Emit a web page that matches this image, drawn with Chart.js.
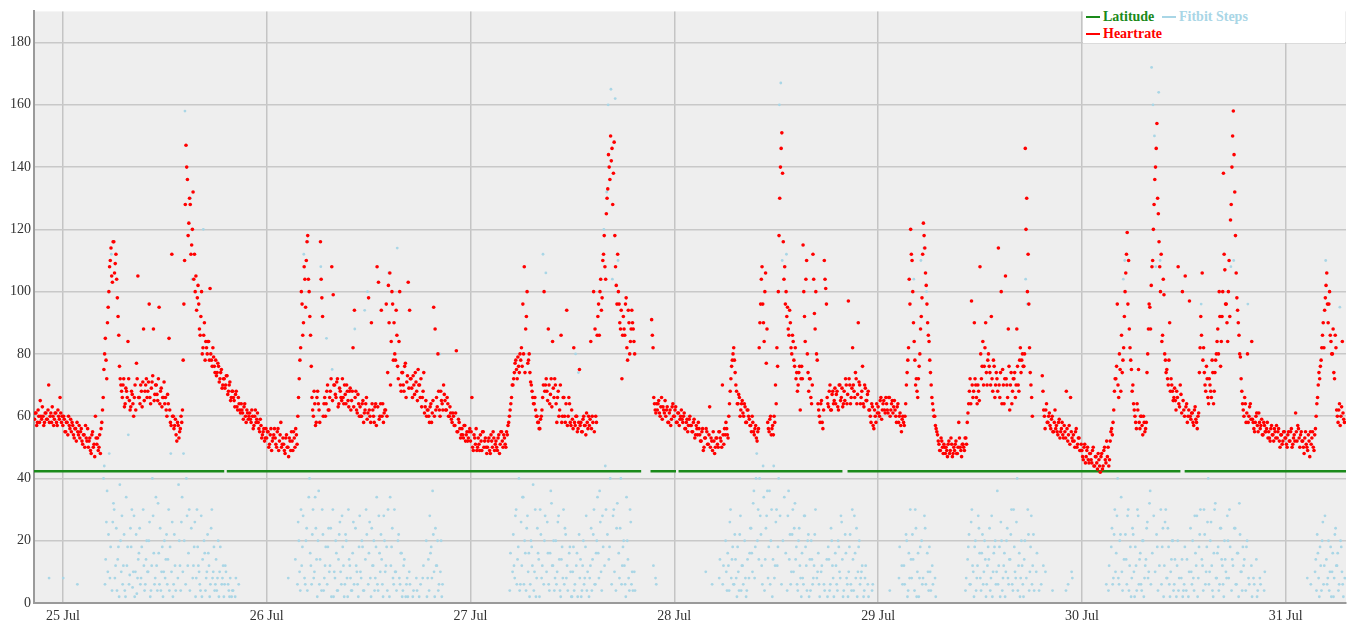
<!DOCTYPE html>
<html><head><meta charset="utf-8">
<script src="https://cdn.jsdelivr.net/npm/chart.js@4.4.1/dist/chart.umd.min.js"></script>
<style>
html,body{margin:0;padding:0;background:#fff;}
#wrap{position:relative;width:1354px;height:631px;}
#legend{position:absolute;left:1083px;top:9px;width:262px;height:34px;background:#fff;font-family:'Liberation Serif','Times New Roman',serif;font-weight:bold;font-size:14px;}
.item{position:absolute;white-space:nowrap;line-height:16px;height:16px;}
.item i{display:inline-block;width:14px;height:2.5px;vertical-align:middle;margin-right:3px;position:relative;top:-1px;}
</style></head>
<body><div id="wrap"><canvas id="c" width="1354" height="631"></canvas><div id="legend"></div></div>
<script>
// ---- tick labels ----
const dayLabels = ['25 Jul','26 Jul','27 Jul','28 Jul','29 Jul','30 Jul','31 Jul'];
const dayTickHours = [0,24,48,72,96,120,144];
const yTickValues = [0,20,40,60,80,100,120,140,160,180];
const seriesNames = ['Latitude','Fitbit Steps','Heartrate'];

// ---- Heartrate, reading A every 10 minutes (hours since 25 Jul 00:00) ----
const hrPreStart = -200/60;
const hrPre = [59,61,58,60,65,59,60,58,61,59,70,60,58,60,59,61,57,60,66,58];
const hr25 = [
57,59,55,58,60,56, 55,57,53,56,58,54, 53,56,51,54,57,52, 50,53,48,55,51,60,
51,49,54,56,62,75, 85,72,95,108,114,103, 116,109,104,92,76,70, 66,72,64,68,84,65,
63,67,60,70,77,105, 66,70,63,88,68,72, 68,96,64,71,88,67, 70,65,95,68,63,66,
64,62,67,85,58,112, 60,57,54,58,53,56, 58,78,110,147,136,122, 128,115,132,112,105,98,
96,86,100,82,90,84, 80,84,101,78,82,76, 78,74,76,72,75,70, 72,70,73,68,71,66,
68,65,67,63,66,62, 64,61,63,60,62,59, 61,58,60,57,62,59, 58,55,57,54,56,53];
const hr26 = [
53,55,51,56,52,54, 53,50,56,52,58,51, 51,48,54,50,53,49, 52,55,50,54,60,72,
82,96,90,104,110,118, 100,86,66,60,64,58, 68,62,116,98,60,66, 64,70,62,68,108,99,
70,66,72,64,68,65, 66,70,64,68,63,69, 65,82,94,68,61,64, 63,60,65,61,64,59,
98,60,90,62,58,64, 108,103,60,94,64,61, 62,60,102,106,84,96, 90,78,86,72,100,68,
74,68,77,71,103,94, 72,66,70,74,68,75, 70,72,66,74,63,60, 62,58,64,61,95,88,
66,80,62,68,64,70, 65,62,64,60,61,58, 60,57,81,55,58,53, 56,53,57,54,52,55];
const hr27 = [
52,66,49,53,56,50, 51,54,49,55,52,50, 50,53,48,52,55,49, 52,49,54,51,55,50,
53,50,54,58,62,66, 70,74,78,72,76,80, 82,96,108,88,100,78, 74,70,66,64,62,60,
58,56,60,66,100,70, 68,88,64,72,84,66, 70,58,68,62,86,60, 66,58,94,60,64,57,
59,82,57,60,56,75, 58,55,60,57,61,56, 57,84,60,100,88,58, 92,86,104,98,112,108,
125,133,140,150,146,138, 118,102,112,96,88,72, 92,86,98,78,90,84, 94,88,80,null,null,null,
null,null,null,null,null,null, null,null,91,82,64,61, 62,65,60,66,63,61, 60,63,58,62,59,64];
const hr28 = [
60,63,58,61,59,62, 58,61,56,59,57,60, 57,55,59,54,56,58, 54,52,56,50,53,55,
51,63,53,49,52,50, 53,50,55,52,70,51, 54,56,53,64,72,78, 82,74,68,64,66,62,
65,60,63,58,62,59, 57,60,55,56,53,55, 82,96,108,90,100,77, 58,55,60,56,54,58,
64,76,118,140,151,116, 108,100,95,86,90,80, 84,76,72,68,74,62, 76,115,92,104,80,68,
72,64,112,93,100,78, 62,58,65,56,110,101, 66,63,70,62,68,65, 64,68,62,70,66,63,
68,72,64,97,70,66, 82,68,74,64,90,70, 66,76,63,69,65,68, 62,58,63,56,60,64];
const hr29 = [
63,60,66,62,65,61, 64,61,66,62,65,63, 62,58,64,60,57,59, 58,60,70,78,104,120,
110,90,78,72,66,76, 88,98,122,114,102,90, 84,74,66,62,60,56, 54,51,49,52,48,50,
50,47,52,49,51,48, 49,52,48,58,50,47, 51,49,53,58,64,72, 97,66,90,70,64,68,
108,72,84,76,90,70, 80,74,92,68,76,70, 72,114,66,100,75,64, 105,70,88,62,74,68,
72,66,88,70,78,74, 80,76,146,130,112,82, 70,60,null,null,null,null, null,null,73,62,56,64,
58,61,56,60,55,62, 57,54,59,55,58,53, 55,68,52,57,66,53, 54,50,56,51,53,49];
const hr30 = [
49,46,51,47,50,45, 48,45,50,44,47,43, 46,42,48,44,50,45, 47,44,52,56,58,68,
72,96,66,75,86,78, 92,106,119,110,82,75, 70,62,58,64,75,56, 60,54,58,56,74,88,
95,102,110,128,140,154, 125,108,112,86,99,78, 75,70,90,72,68,66, 65,68,108,63,67,100,
62,105,64,60,97,59, 61,57,63,58,60,74, 92,106,82,70,76,66, 72,68,78,64,74,80,
88,100,76,92,138,107, 96,84,110,123,140,158, 132,106,94,86,79,68, 62,66,58,80,60,64,
84,58,55,60,57,61, 56,59,54,57,55,58, 55,52,57,54,56,53, 53,56,50,54,52,55];
const hr31 = [
53,50,55,52,56,51, 54,61,52,56,50,55, 52,48,55,50,54,47, 51,55,49,56,64,70,
72,78,86,82,98,106, 90,100,84,80,74,86, 62,58,64,60,84,59];

// ---- Heartrate, reading B, 5 minutes after each reading A ----
const hrPreB = [61,57,62,58,60,63,57,61,59,62,58,61,63,57,61,58,62,59,61,60];
const hr25B = [
60,55,58,54,57,59, 58,54,56,52,55,57, 55,52,54,50,53,56, 52,49,54,50,47,53,
53,50,48,58,66,80, 78,90,100,110,105,116, 106,112,98,86,72,68, 70,63,69,66,72,62,
68,64,66,62,72,66, 64,68,71,65,70,66, 71,66,69,73,65,70, 67,72,64,69,66,71,
66,60,64,62,57,60, 56,59,52,57,55,60, 62,96,128,140,118,130, 112,120,104,100,94,102,
88,92,80,86,78,82, 84,78,80,76,79,74, 73,77,71,74,69,72, 69,73,67,70,65,68,
66,63,68,62,64,61, 62,59,64,58,61,60, 59,62,56,60,58,61, 56,59,53,55,52,56];
const hr26B = [
55,50,54,49,53,56, 51,55,49,54,50,53, 49,53,50,47,52,55, 49,53,56,51,66,78,
100,86,108,95,116,104, 92,76,62,68,57,66, 64,58,104,92,64,60, 68,62,66,72,65,70,
67,71,63,69,66,72, 64,67,70,65,68,62, 68,63,66,62,67,60, 60,64,58,62,66,61,
62,58,64,60,63,57, 63,59,64,60,58,62, 96,74,90,70,100,78, 80,94,76,84,70,74,
70,76,66,73,69,72, 69,73,67,71,65,70, 66,63,68,61,65,62, 60,63,58,65,60,62,
63,68,60,65,62,67, 62,66,60,63,59,61, 57,61,55,59,56,54, 54,57,52,55,53,56];
const hr27B = [
55,50,54,51,49,53, 49,52,55,50,53,48, 52,49,54,50,53,51, 50,53,48,55,52,54,
51,55,57,60,64,70, 72,77,75,79,74,78, 76,80,74,92,77,80, 71,68,64,66,60,58,
56,59,62,70,68,72, 65,70,67,63,69,72, 64,66,60,70,58,66, 60,64,57,66,58,62,
56,58,60,55,58,57, 55,59,57,54,58,60, 59,56,58,55,60,86, 96,100,94,110,118,104,
130,144,136,142,128,148, 108,96,100,90,94,86, 88,96,82,94,80,88, 90,84,null,null,null,null,
null,null,null,null,null,null, null,null,86,66,62,64, 64,61,63,59,62,65, 62,58,61,57,63,60];
const hr28B = [
62,58,61,57,60,59, 60,56,58,55,59,57, 55,58,53,57,54,56, 52,55,49,53,56,51,
54,50,52,55,48,53, 51,55,53,50,54,56, 58,54,60,68,76,80, 78,70,64,67,60,64,
61,64,58,62,60,57, 55,58,54,57,52,56, 90,104,96,84,106,88, 56,59,54,57,60,70,
82,100,130,146,138,104, 96,92,88,94,82,86, 78,82,74,70,76,72, 72,100,84,110,74,72,
66,70,104,88,80,64, 60,64,58,62,104,96, 64,68,62,67,64,69, 67,63,70,65,69,64,
65,70,67,72,64,69, 70,66,72,67,71,64, 68,64,70,65,67,62, 60,64,57,62,58,61];
const hr29B = [
61,65,59,64,62,66, 62,66,60,64,61,65, 60,63,58,61,55,60, 57,64,74,82,96,112,
100,84,70,68,72,80, 92,112,118,106,96,86, 78,70,64,60,57,55, 52,49,53,50,51,48,
49,51,48,53,47,50, 51,48,50,53,49,51, 50,53,51,61,68,64, 70,68,72,66,70,65,
80,76,70,82,74,78, 76,70,72,78,66,74, 68,70,74,64,70,72, 72,66,76,70,64,72,
74,70,76,68,82,78, 76,80,120,100,96,74, 66,null,null,null,null,null, null,null,68,60,62,58,
60,57,59,55,58,56, 55,58,53,56,54,57, 53,56,54,51,55,52, 52,55,50,53,49,51];
const hr30B = [
47,50,45,49,46,48, 46,49,44,47,45,48, 44,47,43,49,46,52, 50,46,55,54,62,72,
76,70,80,68,74,82, 100,112,96,88,78,68, 64,60,56,62,58,60, 57,60,55,58,80,96,
88,108,120,136,146,130, 116,100,84,104,80,74, 72,78,68,70,65,69, 62,66,64,70,61,65,
60,63,58,62,60,61, 58,62,59,56,61,82, 86,78,74,68,72,64, 70,66,74,68,78,84,
80,92,84,100,112,96, 90,100,92,128,150,144, 118,98,90,80,72,64, 60,64,61,58,63,59,
59,56,58,61,55,58, 57,54,58,55,56,53, 53,56,54,52,55,57, 55,52,54,51,55,53];
const hr31B = [
51,54,52,55,50,53, 52,55,57,53,54,52, 50,53,51,49,52,55, 53,50,54,60,66,74,
76,82,90,94,102,96, 96,86,80,88,72,82, 60,62,57,63,61,58];

// ---- Fitbit steps, reading A every 10 minutes (0 = no steps recorded) ----
const stepsPre = [0,0,0,0,0,0,0,0,0,0,8,0,0,0,0,0,0,0,0,0];
const steps25 = [
8,0,0,0,0,0, 0,0,0,0,6,0, 0,0,0,0,0,0, 0,0,0,0,0,0,
0,0,0,0,0,44, 14,36,22,8,112,26, 30,12,4,18,38,10, 6,22,2,12,54,9,
18,5,28,10,3,14, 24,8,0,12,6,20, 10,26,4,40,16,8, 12,32,6,4,18,10,
8,22,14,4,48,26, 6,12,0,8,20,4, 34,48,158,40,12,30, 130,104,12,26,8,18,
10,4,2,120,16,8, 22,12,6,30,10,4, 14,8,2,18,6,12, 6,10,0,4,8,2,
4,0,8,0,6,0, 0,0,0,0,0,0, 0,0,0,0,0,0, 0,0,0,0,0,0];
const steps26 = [
0,0,0,0,0,0, 0,0,0,0,0,0, 0,0,0,8,0,0, 0,0,14,0,26,10,
30,18,112,6,24,116, 40,12,22,8,34,14, 20,6,108,30,4,12, 85,18,10,24,75,2,
8,16,4,22,10,28, 12,6,20,2,14,8, 4,26,88,12,6,18, 10,20,4,94,30,100,
16,8,24,12,4,18, 6,28,10,14,2,20, 12,4,106,34,18,8, 30,10,114,22,6,16,
4,14,2,8,0,6, 0,2,0,0,4,0, 0,0,8,0,0,2, 14,28,18,36,10,24,
12,4,80,20,6,0, 0,0,0,0,0,0, 0,0,0,0,0,0, 0,0,0,0,0,0];
const steps27 = [
0,0,0,0,0,0, 0,0,0,0,0,0, 0,0,0,0,0,0, 0,0,0,0,0,0,
0,0,0,0,16,0, 22,8,30,14,40,6, 12,34,20,4,28,16, 6,18,38,10,2,24,
14,30,8,112,20,106, 26,6,16,32,12,4, 20,10,28,4,14,8, 6,22,12,0,18,2,
10,4,80,16,74,8, 2,12,6,18,4,0, 8,24,14,30,6,20, 16,36,10,28,120,44,
132,160,18,165,104,30, 162,24,110,8,40,12, 20,6,34,14,4,26, 10,0,4,0,0,0,
0,0,0,0,0,0, 0,0,0,12,0,6, 0,0,0,0,0,0, 0,0,0,0,0,0];
const steps28 = [
0,0,0,0,0,0, 0,0,0,0,0,0, 0,0,0,0,0,0, 0,0,0,0,10,0,
0,0,0,0,0,0, 0,0,14,0,6,0, 20,4,12,26,8,18, 6,14,2,10,22,4,
12,0,8,4,0,16, 24,10,36,18,48,30, 40,22,6,34,14,28, 8,36,20,2,44,12,
30,18,160,167,110,116, 108,112,28,14,6,22, 10,32,18,4,24,8, 16,6,28,12,20,2,
4,14,8,22,0,10, 6,0,12,0,4,0, 2,14,6,20,8,0, 12,4,18,8,26,2,
0,16,6,10,22,4, 14,28,8,2,18,6, 10,0,4,12,0,2, 0,0,6,0,0,0];
const steps29 = [
0,0,0,0,0,0, 0,0,4,0,0,0, 0,0,0,18,0,6, 12,0,20,4,8,14,
22,104,30,2,16,8, 110,6,114,24,100,10, 18,4,12,0,8,0, 0,0,0,0,0,0,
0,0,0,0,0,0, 0,0,0,0,0,0, 0,0,8,14,22,6, 30,10,18,4,12,24,
8,16,6,20,2,12, 14,4,28,10,18,6, 36,12,2,20,8,16, 10,24,6,14,30,4,
18,8,40,12,2,20, 6,14,104,96,22,10, 28,12,4,0,16,0, 0,6,0,0,10,0,
0,0,0,4,0,0, 0,0,0,0,0,0, 0,0,6,0,0,8, 0,0,0,0,0,0];
const steps30 = [
0,0,0,0,0,0, 0,0,0,0,0,0, 0,0,0,0,0,6, 0,12,0,24,8,30,
16,40,6,22,10,104, 110,14,28,4,18,8, 22,2,12,30,6,16, 4,20,8,14,26,10,
36,172,160,150,108,18, 164,110,6,24,12,30, 8,18,2,14,20,6, 0,12,4,0,8,2,
6,0,14,2,0,10, 20,4,16,28,8,22, 96,12,30,6,18,40, 10,26,4,16,32,8,
18,6,24,12,2,14, 8,20,30,108,14,110, 24,6,16,32,10,4, 12,0,18,96,6,0,
2,8,0,14,4,0, 6,0,0,10,0,0, 0,0,0,0,0,0, 0,0,0,0,0,0];
const steps31 = [
0,0,0,0,0,0, 0,0,0,0,0,0, 0,0,0,8,0,0, 0,0,0,14,22,8,
18,4,26,12,110,6, 20,10,2,16,8,24, 12,4,95,18,6,0];

// ---- Fitbit steps, reading B (5 minutes after reading A) ----
const stepsPreB = [0,0,0,0,0,0,0,0,0,0,0,0,0,0,0,0,0,0,0,0];
const steps25B = [
0,0,0,0,0,0, 0,0,0,0,0,0, 0,0,0,0,0,0, 0,0,0,0,0,0,
0,0,0,0,40,6, 26,10,48,18,4,32, 8,24,14,2,20,28, 12,4,34,18,6,24,
30,10,2,22,8,16, 6,18,30,4,14,10, 20,2,12,28,6,34, 4,16,24,10,2,20,
14,6,30,18,10,2, 22,4,0,38,12,26, 10,20,6,28,16,4, 24,8,18,2,30,12,
6,28,14,20,4,10, 16,2,24,8,18,6, 4,20,10,0,8,2, 12,0,6,2,0,4,
0,2,0,0,0,0, 0,0,0,0,0,0, 0,0,0,0,0,0, 0,0,0,0,0,0];
const steps26B = [
0,0,0,0,0,0, 0,0,0,0,0,0, 0,0,0,0,0,0, 0,0,0,6,20,4,
12,28,8,20,4,34, 16,6,30,10,24,2, 36,14,4,22,8,18, 6,24,12,2,30,10,
20,4,14,26,6,18, 2,22,8,30,12,4, 16,6,24,10,2,28, 8,18,4,14,22,6,
26,2,12,20,8,34, 4,16,22,6,28,10, 18,30,2,12,24,6, 10,4,20,8,16,2,
12,0,6,2,10,0, 0,4,0,8,0,2, 6,0,12,0,20,8, 4,16,8,22,2,12,
20,6,10,2,0,0, 0,0,0,0,0,0, 0,0,0,0,0,0, 0,0,0,0,0,0];
const steps27B = [
0,0,0,0,0,0, 0,0,0,0,0,0, 0,0,0,0,0,0, 0,0,0,0,0,0,
0,0,0,4,0,10, 12,28,6,18,4,26, 34,6,16,24,10,2, 20,12,4,30,8,16,
2,22,12,6,28,10, 16,4,36,12,20,8, 6,26,14,2,18,30, 24,8,4,16,10,2,
18,6,12,2,22,14, 4,20,8,28,10,2, 12,4,22,6,16,34, 8,26,4,18,12,30,
22,14,40,6,28,10, 4,32,16,24,6,18, 12,2,20,8,30,6, 4,10,0,0,0,0,
0,0,0,0,0,0, 0,0,0,0,8,0, 0,0,0,0,0,0, 0,0,0,0,0,0];
const steps28B = [
0,0,0,0,0,0, 0,0,0,0,0,0, 0,0,0,0,0,0, 0,0,0,0,0,0,
0,0,6,0,0,0, 0,8,0,0,12,0, 10,16,4,30,14,6, 22,8,18,4,28,12,
6,20,2,14,8,24, 16,32,8,40,20,14, 28,12,44,4,24,36, 18,6,30,14,8,26,
12,40,28,6,20,34, 16,4,36,22,10,30, 24,14,6,20,12,2, 8,28,18,4,22,14,
20,6,12,30,8,16, 2,10,0,6,0,14, 18,4,24,12,2,16, 6,20,10,28,14,4,
22,8,2,18,6,30, 4,16,24,10,20,8, 12,2,8,0,6,0, 0,4,0,0,0,0];
const steps29B = [
0,0,0,0,0,0, 0,0,0,0,0,0, 0,0,8,0,12,0, 6,22,2,16,30,8,
14,4,24,10,2,18, 20,8,28,6,16,4, 10,0,6,0,2,0, 0,0,0,0,0,0,
0,0,0,0,0,0, 0,0,0,0,0,0, 0,4,0,18,6,26, 12,2,20,8,28,16,
4,22,10,14,6,18, 24,8,2,16,20,10, 6,18,26,4,12,2, 20,8,14,22,6,30,
10,26,4,16,8,12, 2,20,8,30,4,18, 6,22,0,10,0,4, 0,0,12,0,0,0,
0,0,0,0,0,0, 0,0,0,0,0,0, 4,0,0,0,10,0, 0,0,0,0,0,0];
const steps30B = [
0,0,0,0,0,0, 0,0,0,0,0,0, 0,0,0,0,0,0, 4,0,18,6,22,10,
28,8,20,34,4,14, 22,6,30,12,2,24, 10,18,4,28,14,6, 20,2,12,24,8,32,
6,16,28,10,22,4, 12,30,18,2,26,8, 24,6,10,20,4,14, 2,20,8,0,14,4,
18,4,0,10,24,6, 8,28,12,2,18,30, 14,4,22,10,26,6, 20,12,2,30,8,16,
4,24,14,6,20,10, 28,8,18,4,12,24, 6,16,2,22,10,18, 14,4,20,8,0,12,
0,6,0,2,0,8, 0,0,4,0,0,0, 0,0,0,0,0,0, 0,0,0,0,0,0];
const steps31B = [
0,0,0,0,0,0, 0,0,0,0,0,0, 0,0,0,0,0,6, 0,0,10,4,16,2,
12,20,6,28,14,8, 4,18,10,2,22,12, 16,6,20,10,2,8];

// ---- Latitude: constant track with recording gaps (start hour, end hour) ----
const latSegments = [[-3.4,19.0],[19.3,68.1],[69.2,72.2],[72.5,91.8],[92.4,131.6],[132.1,151.1]];
const latValue = 42.3;

// ---- build point lists ----
function toPoints(start, arr, offset, skipZero){
  const out = [];
  arr.forEach((v,i)=>{
    if (v === null) return;
    if (skipZero && v === 0) return;
    out.push({x: start + i/6 + offset, y: v});
  });
  return out;
}
const hrDays = [hr25,hr26,hr27,hr28,hr29,hr30,hr31];
const hrDaysB = [hr25B,hr26B,hr27B,hr28B,hr29B,hr30B,hr31B];
const stepDays = [steps25,steps26,steps27,steps28,steps29,steps30,steps31];
const stepDaysB = [steps25B,steps26B,steps27B,steps28B,steps29B,steps30B,steps31B];
let hrPoints = toPoints(hrPreStart, hrPre, 0, false).concat(toPoints(hrPreStart, hrPreB, 1/12, false));
let stepPoints = toPoints(hrPreStart, stepsPre, 1/24, true).concat(toPoints(hrPreStart, stepsPreB, 1/8, true));
hrDays.forEach((d,k)=>{ hrPoints = hrPoints.concat(toPoints(24*k, d, 0, false)); });
hrDaysB.forEach((d,k)=>{ hrPoints = hrPoints.concat(toPoints(24*k, d, 1/12, false)); });
stepDays.forEach((d,k)=>{ stepPoints = stepPoints.concat(toPoints(24*k, d, 1/24, true)); });
stepDaysB.forEach((d,k)=>{ stepPoints = stepPoints.concat(toPoints(24*k, d, 1/8, true)); });
const latPoints = [];
latSegments.forEach((s,i)=>{
  latPoints.push({x:s[0], y:latValue}, {x:s[1], y:latValue});
  if (i < latSegments.length-1) latPoints.push({x:(s[1]+latSegments[i+1][0])/2, y:null});
});

const colors = {lat:'#1a8a1a', steps:'#a9d6e6', hr:'#ff0000'};

const bgPlugin = {
  id:'bg',
  beforeDraw(chart){
    const {ctx, chartArea:a} = chart;
    ctx.save();
    ctx.fillStyle = '#ffffff';
    ctx.fillRect(0,0,chart.width,chart.height);
    ctx.fillStyle = '#eeeeee';
    ctx.fillRect(a.left, a.top, a.right-a.left, a.bottom-a.top);
    ctx.restore();
  }
};

const font = {family:"'Liberation Serif','Times New Roman',serif", size:14};

new Chart(document.getElementById('c'), {
  type:'scatter',
  data:{ datasets:[
    {label:seriesNames[2], data:hrPoints, backgroundColor:colors.hr, borderWidth:0, pointRadius:1.8, order:1},
    {label:seriesNames[0], data:latPoints, showLine:true, spanGaps:false, borderColor:colors.lat, borderWidth:2.6, pointRadius:0, order:2},
    {label:seriesNames[1], data:stepPoints, backgroundColor:colors.steps, borderWidth:0, pointRadius:1.4, order:3}
  ]},
  options:{
    responsive:false, animation:false, devicePixelRatio:1,
    layout:{padding:{top:9, right:8, left:0, bottom:0}},
    plugins:{legend:{display:false}, tooltip:{enabled:false}},
    events:[],
    scales:{
      x:{
        type:'linear', min:-3.4, max:151.1,
        afterBuildTicks:s=>{ s.ticks = dayTickHours.map(v=>({value:v})); },
        afterFit:s=>{ s.height = 28; },
        ticks:{ callback:v=>dayLabels[dayTickHours.indexOf(v)], font:font, color:'#333', padding:5, maxRotation:0, autoSkip:false },
        grid:{ color:'#c4c4c4', lineWidth:1.5, drawTicks:false },
        border:{ color:'#9a9a9a', width:2 }
      },
      y:{
        type:'linear', min:0, max:190,
        afterBuildTicks:s=>{ s.ticks = yTickValues.map(v=>({value:v})); },
        afterFit:s=>{ s.width = 34; },
        ticks:{ font:font, color:'#333', padding:3 },
        grid:{ color:'#c8c8c8', lineWidth:1.5, drawTicks:false },
        border:{ color:'#9a9a9a', width:2 }
      }
    }
  },
  plugins:[bgPlugin]
});

// ---- legend (HTML text) ----
const legendItems = [
  {name:seriesNames[0], color:colors.lat, left:3, top:0},
  {name:seriesNames[1], color:colors.steps, left:79, top:0},
  {name:seriesNames[2], color:colors.hr, left:3, top:17}
];
const lg = document.getElementById('legend');
legendItems.forEach(it=>{
  const d = document.createElement('div');
  d.className = 'item';
  d.style.left = it.left+'px'; d.style.top = it.top+'px'; d.style.color = it.color;
  const m = document.createElement('i'); m.style.background = it.color;
  d.appendChild(m); d.appendChild(document.createTextNode(it.name));
  lg.appendChild(d);
});
</script>
</body></html>
